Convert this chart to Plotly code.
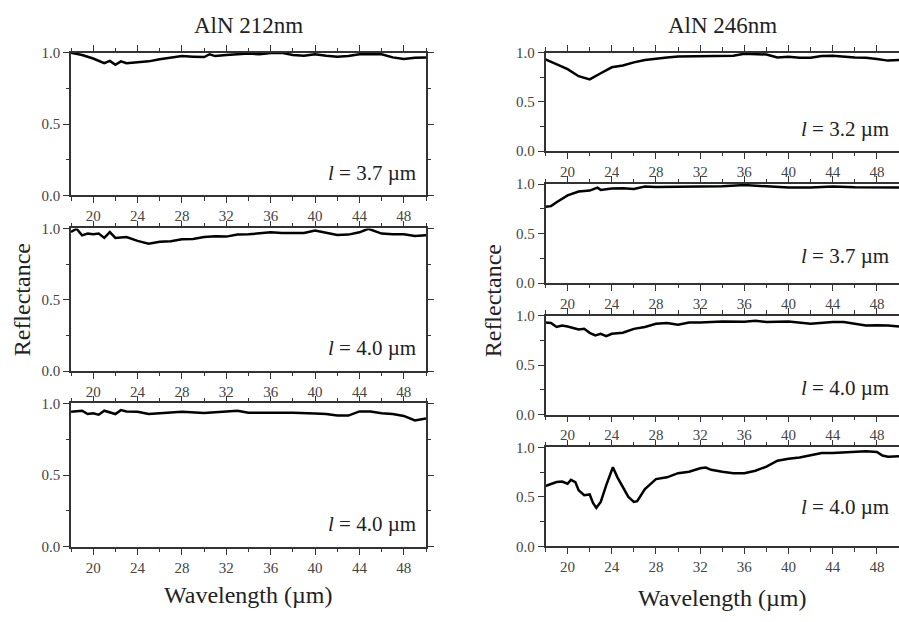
import plotly.graph_objects as go

# ---------------- data ----------------
titles = ["AlN 212nm", "AlN 246nm"]

# Left column (AlN 212nm)
x_l1 = [18, 19, 20, 21, 21.5, 22, 22.5, 23, 24, 25, 26, 27, 28, 29, 30, 30.5, 31, 32, 33, 34, 35, 36, 37, 38, 39, 40, 41, 42, 43, 44, 45, 46, 47, 48, 49, 50]
y_l1 = [1.0, 0.985, 0.96, 0.927, 0.943, 0.916, 0.94, 0.927, 0.934, 0.94, 0.955, 0.966, 0.977, 0.973, 0.97, 0.99, 0.977, 0.985, 0.99, 0.995, 0.99, 0.998, 1.0, 0.985, 0.98, 0.99, 0.98, 0.973, 0.977, 0.99, 0.99, 0.99, 0.968, 0.957, 0.965, 0.968]
lab_l1 = "3.7"

x_l2 = [18, 18.5, 19, 19.5, 20, 20.5, 21, 21.5, 22, 23, 24, 25, 26, 27, 28, 29, 30, 31, 32, 33, 34, 35, 36, 37, 38, 39, 40, 41, 42, 43, 44, 44.8, 46, 47, 48, 49, 50]
y_l2 = [0.975, 0.998, 0.952, 0.964, 0.96, 0.964, 0.934, 0.975, 0.934, 0.94, 0.913, 0.893, 0.907, 0.911, 0.925, 0.927, 0.94, 0.945, 0.943, 0.957, 0.959, 0.964, 0.973, 0.968, 0.966, 0.968, 0.986, 0.97, 0.954, 0.957, 0.973, 0.998, 0.964, 0.96, 0.96, 0.948, 0.952]
lab_l2 = "4.0"

x_l3 = [18, 19, 19.5, 20, 20.5, 21, 22, 22.5, 23, 24, 25, 26, 28, 30, 32, 33, 34, 36, 38, 40, 41, 42, 43, 44, 45, 46, 47, 48, 49, 50]
y_l3 = [0.94, 0.948, 0.925, 0.93, 0.92, 0.948, 0.925, 0.952, 0.943, 0.941, 0.925, 0.932, 0.941, 0.932, 0.943, 0.948, 0.934, 0.934, 0.934, 0.928, 0.925, 0.914, 0.914, 0.943, 0.943, 0.93, 0.925, 0.912, 0.88, 0.894]
lab_l3 = "4.0"

# Right column (AlN 246nm)
x_r1 = [18, 19, 20, 21, 22, 23, 24, 25, 26, 27, 28, 29, 30, 32, 34, 35, 36, 37, 38, 39, 40, 41, 42, 43, 44, 46, 47, 48, 49, 50]
y_r1 = [0.93, 0.885, 0.832, 0.76, 0.727, 0.79, 0.85, 0.868, 0.9, 0.924, 0.94, 0.95, 0.96, 0.96, 0.96, 0.967, 0.987, 0.98, 0.98, 0.95, 0.957, 0.947, 0.947, 0.964, 0.967, 0.95, 0.947, 0.934, 0.918, 0.924]
lab_r1 = "3.2"

x_r2 = [18, 18.5, 19, 20, 21, 22, 22.7, 23, 24, 25, 26, 27, 28, 30, 32, 34, 36, 37, 38, 40, 42, 44, 46, 48, 50]
y_r2 = [0.77, 0.777, 0.816, 0.885, 0.925, 0.934, 0.964, 0.941, 0.954, 0.957, 0.95, 0.974, 0.97, 0.974, 0.974, 0.977, 0.99, 0.984, 0.977, 0.964, 0.964, 0.974, 0.967, 0.964, 0.964]
lab_r2 = "3.7"

x_r3 = [18, 18.5, 19, 19.5, 20, 21, 21.5, 22, 22.5, 23, 23.5, 24, 25, 26, 27, 28, 29, 30, 31, 32, 34, 36, 37, 38, 40, 42, 44, 45, 46, 47, 48, 49, 50]
y_r3 = [0.93, 0.925, 0.885, 0.9, 0.89, 0.86, 0.866, 0.826, 0.8, 0.816, 0.793, 0.816, 0.826, 0.866, 0.885, 0.918, 0.925, 0.908, 0.93, 0.93, 0.94, 0.938, 0.948, 0.934, 0.94, 0.918, 0.934, 0.934, 0.918, 0.9, 0.902, 0.9, 0.89]
lab_r3 = "4.0"

x_r4 = [18, 18.5, 19, 19.5, 20, 20.3, 20.7, 21, 21.5, 22, 22.3, 22.6, 23, 23.5, 24.1, 24.5, 25, 25.5, 26, 26.3, 27, 28, 29, 30, 31, 32, 32.5, 33, 34, 35, 36, 37, 38, 39, 40, 41, 42, 43, 44, 45, 46, 47, 48, 48.5, 49, 50]
y_r4 = [0.61, 0.633, 0.65, 0.656, 0.633, 0.672, 0.65, 0.567, 0.518, 0.525, 0.44, 0.39, 0.45, 0.62, 0.80, 0.7, 0.6, 0.5, 0.45, 0.457, 0.58, 0.68, 0.698, 0.74, 0.754, 0.79, 0.797, 0.774, 0.754, 0.74, 0.74, 0.764, 0.806, 0.866, 0.885, 0.898, 0.92, 0.944, 0.944, 0.948, 0.957, 0.96, 0.954, 0.918, 0.905, 0.91]
lab_r4 = "4.0"

x_ticks = [20, 24, 28, 32, 36, 40, 44, 48]
y_ticks = [0.0, 0.5, 1.0]

# ---------------- layout geometry ----------------
W, H = 899, 622
def py(p):
    return 1 - p / H

left_x = [71 / W, 426 / W]
right_x = [545.5 / W, 1.0]
left_y = [(46, 192.3), (226.3, 372.7), (405.7, 553)]
right_y = [(45.7, 147), (180.7, 282.3), (315.7, 417.3), (451, 552.7)]

panels = [
    (x_l1, y_l1, lab_l1, left_x, left_y[0], 0.16),
    (x_l2, y_l2, lab_l2, left_x, left_y[1], 0.16),
    (x_l3, y_l3, lab_l3, left_x, left_y[2], 0.16),
    (x_r1, y_r1, lab_r1, right_x, right_y[0], 0.23),
    (x_r2, y_r2, lab_r2, right_x, right_y[1], 0.27),
    (x_r3, y_r3, lab_r3, right_x, right_y[2], 0.27),
    (x_r4, y_r4, lab_r4, right_x, right_y[3], 0.40),
]

FONT = "'Liberation Serif', 'Times New Roman', 'DejaVu Serif', serif"
AX = "#333333"

fig = go.Figure()
annotations = []
layout = {}
for i, (xs, ys, lab, xd, yd, ty) in enumerate(panels, start=1):
    xa = "x" if i == 1 else f"x{i}"
    ya = "y" if i == 1 else f"y{i}"
    fig.add_trace(go.Scatter(x=xs, y=ys, mode="lines", xaxis=xa, yaxis=ya,
                             line=dict(color="black", width=2.5), showlegend=False))
    is_right = xd[1] == 1.0
    layout["xaxis" if i == 1 else f"xaxis{i}"] = dict(
        domain=xd, anchor=ya, range=[18, 50], tickvals=x_ticks,
        ticks="outside", ticklen=6, tickwidth=1.3, tickcolor=AX,
        minor=dict(dtick=2, tick0=18, ticks="outside", ticklen=3.5, tickwidth=1.2, tickcolor=AX),
        showline=True, linecolor=AX, linewidth=1.5, mirror="ticks",
        showgrid=False, zeroline=False,
        tickfont=dict(family=FONT, size=15, color="#444444"))
    layout["yaxis" if i == 1 else f"yaxis{i}"] = dict(
        domain=[py(yd[1]), py(yd[0])], anchor=xa, range=[0, 1], tickvals=y_ticks,
        tickformat=".1f",
        ticks="outside", ticklen=6, tickwidth=1.3, tickcolor=AX,
        minor=dict(dtick=0.25, tick0=0, ticks="outside", ticklen=3.5, tickwidth=1.2, tickcolor=AX),
        showline=True, linecolor=AX, linewidth=1.5,
        mirror=False if is_right else "ticks",
        showgrid=False, zeroline=False,
        tickfont=dict(family=FONT, size=15, color="#444444"))
    annotations.append(dict(
        text=f"<i>l</i> = {lab} µm", xref=f"{xa} domain", yref=f"{ya} domain",
        x=0.978, y=ty, xanchor="right", yanchor="middle", showarrow=False,
        font=dict(family=FONT, size=21, color="#222222")))

# column titles
annotations.append(dict(text=titles[0], xref="paper", yref="paper", x=248 / W, y=py(18),
                        xanchor="center", yanchor="middle", showarrow=False,
                        font=dict(family=FONT, size=23, color="#222222")))
annotations.append(dict(text=titles[1], xref="paper", yref="paper", x=722 / W, y=py(18),
                        xanchor="center", yanchor="middle", showarrow=False,
                        font=dict(family=FONT, size=23, color="#222222")))
# axis titles
for xc in (22, 493):
    annotations.append(dict(text="Reflectance", xref="paper", yref="paper", x=xc / W, y=py(300),
                            xanchor="center", yanchor="middle", textangle=-90, showarrow=False,
                            font=dict(family=FONT, size=24, color="#222222")))
for xc, yc in ((248, 603), (722, 606)):
    annotations.append(dict(text="Wavelength (µm)", xref="paper", yref="paper", x=xc / W, y=py(yc),
                            xanchor="center", yanchor="middle", showarrow=False,
                            font=dict(family=FONT, size=24, color="#222222")))

fig.update_layout(width=W, height=H, margin=dict(l=0, r=0, t=0, b=0),
                  paper_bgcolor="white", plot_bgcolor="white",
                  font=dict(family=FONT),
                  annotations=annotations, **layout)

fig.write_html("out.html")
